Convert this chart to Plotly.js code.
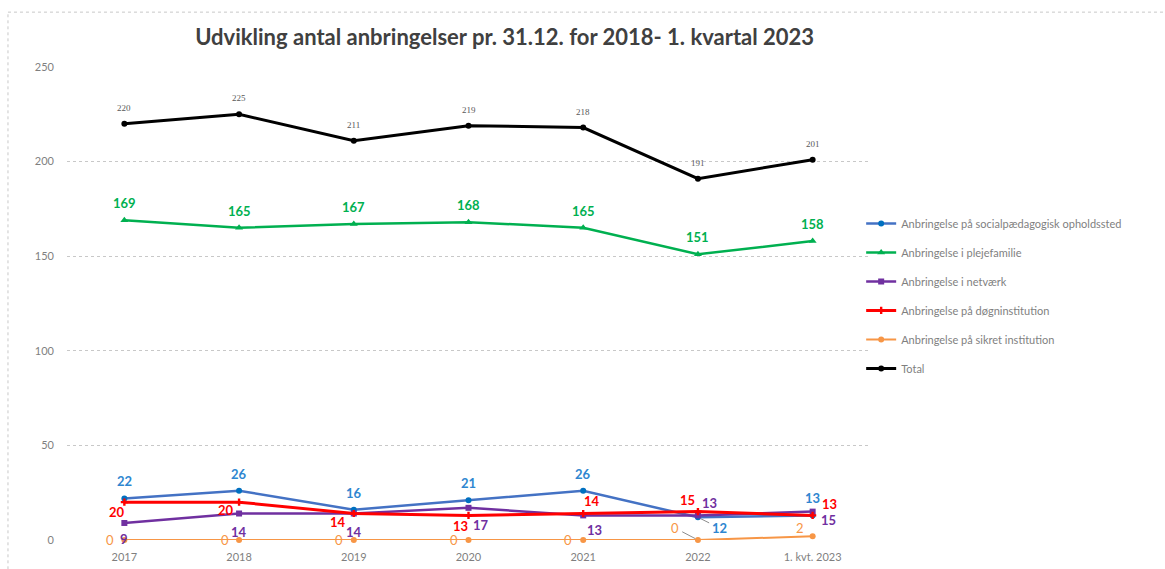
<!DOCTYPE html>
<html>
<head>
<meta charset="utf-8">
<script src="https://cdn.plot.ly/plotly-3.0.1.min.js"></script>
<style>
  html, body { margin: 0; padding: 0; background: #ffffff; }
  #chart { width: 1165px; height: 569px; }
</style>
</head>
<body>
<div id="chart"></div>
<script>
// ---- data ----
const categories = ["2017", "2018", "2019", "2020", "2021", "2022", "1. kvt. 2023"];
const seriesNames = [
  "Anbringelse på socialpædagogisk opholdssted",
  "Anbringelse i plejefamilie",
  "Anbringelse i netværk",
  "Anbringelse på døgninstitution",
  "Anbringelse på sikret institution",
  "Total"
];
const socialpaedagogisk = [22, 26, 16, 21, 26, 12, 13];
const plejefamilie      = [169, 165, 167, 168, 165, 151, 158];
const netvaerk          = [9, 14, 14, 17, 13, 13, 15];
const doegninstitution  = [20, 20, 14, 13, 14, 15, 13];
const sikret            = [0, 0, 0, 0, 0, 0, 2];
const total             = [220, 225, 211, 219, 218, 191, 201];
const yTicks = [0, 50, 100, 150, 200, 250];

// ---- styles / label offsets (pixels: [dx, dy], dy down-positive) ----
const styles = [
  {data: socialpaedagogisk, line: "#4472C4", marker: "#0070C0", symbol: "circle", size: 6, width: 2.5, label: "#2E86D0", bold: true,
   off: [[0,-17],[0,-17],[0,-17],[0,-17],[0,-17],null,[0,-17]], arrow: [null,null,null,null,null,[22,11],null]},
  {data: plejefamilie, line: "#00B050", marker: "#00B050", symbol: "triangle-up", size: 7, width: 2.5, label: "#00B050", bold: true,
   off: [[0,-17],[0,-17],[0,-17],[0,-17],[0,-17],[0,-17],[0,-17]], arrow: []},
  {data: netvaerk, line: "#7030A0", marker: "#7030A0", symbol: "square", size: 6, width: 2.5, label: "#7030A0", bold: true,
   off: [[0,16],[0,18],[0,18],[12,17],[11,15],[12,-12],[16,8]], arrow: []},
  {data: doegninstitution, line: "#FF0000", marker: "#FF0000", symbol: "cross", size: 6, width: 3, label: "#FF0000", bold: true,
   off: [[-7,10],[-13,8],[-16,8],[-8,11],[9,-13],[-10,-12],[17,-11]], arrow: []},
  {data: sikret, line: "#F79646", marker: "#F79646", symbol: "circle", size: 6, width: 2, label: "#F79646", bold: false,
   off: [[-14,0],[-14,0],[-15,0],[-15,0],[-15,0],null,[-13,-8]], arrow: [null,null,null,null,null,[-23,-12],null]},
  {data: total, line: "#000000", marker: "#000000", symbol: "circle", size: 6, width: 3, label: "#595959", bold: false, serif: true,
   off: [[0,-16],[0,-16],[0,-16],[0,-16],[0,-16],[0,-16],[0,-16]], arrow: []}
];

const traces = [];
const annotations = [];
styles.forEach((s, i) => {
  traces.push({
    type: "scatter", mode: "lines+markers",
    x: categories, y: s.data, name: seriesNames[i],
    legendgroup: "g" + i, cliponaxis: false,
    line: {color: s.line, width: s.width},
    marker: {color: s.marker, symbol: s.symbol, size: s.size},
    hoverinfo: "x+y+name"
  });
  s.data.forEach((v, j) => {
    const font = s.serif
      ? {family: "Liberation Serif, serif", size: 9, color: s.label}
      : {family: "Lato, Open Sans, sans-serif", size: 13, color: s.label};
    const text = s.bold ? "<b>" + v + "</b>" : String(v);
    // category index used as x position (category names look numeric)
    if (s.arrow[j]) {
      annotations.push({x: j, y: v, xref: "x", yref: "y", text: text, font: font,
        showarrow: true, ax: s.arrow[j][0], ay: s.arrow[j][1], arrowhead: 0, arrowwidth: 1,
        arrowcolor: "#8c8c8c", standoff: 3, startstandoff: 2});
    } else if (s.off[j]) {
      annotations.push({x: j, y: v, xref: "x", yref: "y", text: text, font: font,
        showarrow: false, xshift: s.off[j][0], yshift: -s.off[j][1]});
    }
  });
});

// render order: draw total & green first, small series after
const order = [5, 1, 0, 2, 3, 4];
const orderedTraces = order.map(k => traces[k]);
orderedTraces.forEach(t => { t.legendrank = seriesNames.indexOf(t.name) + 1; });

const layout = {
  width: 1165, height: 569,
  margin: {l: 67, r: 295, t: 67, b: 29, pad: 0},
  paper_bgcolor: "#ffffff", plot_bgcolor: "#ffffff",
  font: {family: "Lato, Open Sans, sans-serif", color: "#7f7f7f", size: 11},
  title: {
    text: "<b>Udvikling antal anbringelser pr. 31.12. for 2018- 1. kvartal 2023</b>",
    font: {family: "Lato, Open Sans, sans-serif", size: 22, color: "#404040"},
    x: 0.545, xref: "paper", xanchor: "center",
    y: 1 - 37 / 569, yref: "container", yanchor: "middle"
  },
  xaxis: {
    type: "category", categoryorder: "array", categoryarray: categories,
    range: [-0.5, 6.5], showgrid: false, zeroline: false, showline: false,
    ticks: "", tickfont: {size: 11, color: "#7f7f7f"}, ticklabelstandoff: 9, fixedrange: true
  },
  yaxis: {
    range: [0, 250], tickvals: yTicks, ticktext: yTicks.map(String),
    showgrid: true, gridcolor: "#c8c8c8", griddash: "dot", gridwidth: 1,
    zeroline: false, showline: false, ticks: "",
    tickfont: {size: 11, color: "#7f7f7f"}, ticklabelstandoff: 12, fixedrange: true
  },
  showlegend: true,
  legend: {
    x: 0.989, xanchor: "left", y: 0.70, yanchor: "top",
    font: {size: 11, color: "#7f7f7f", family: "Lato, Open Sans, sans-serif"},
    tracegroupgap: 10, traceorder: "grouped", itemwidth: 30, bgcolor: "rgba(0,0,0,0)"
  },
  annotations: annotations,
  shapes: [
    {type: "line", xref: "paper", yref: "paper", x0: -0.0735, x1: 1.4, y0: 1.116, y1: 1.116,
     line: {color: "#c8c8c8", width: 1, dash: "dot"}},
    {type: "line", xref: "paper", yref: "paper", x0: -0.0735, x1: -0.0735, y0: -0.1, y1: 1.116,
     line: {color: "#c8c8c8", width: 1, dash: "dot"}}
  ]
};

Plotly.newPlot("chart", orderedTraces, layout, {displayModeBar: false, staticPlot: true});
</script>
</body>
</html>
